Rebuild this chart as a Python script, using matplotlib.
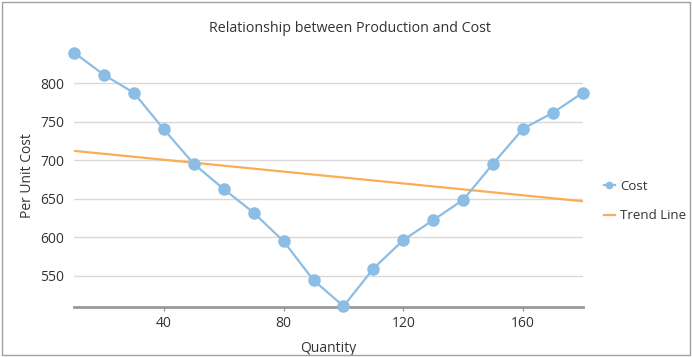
import numpy as np
import matplotlib.pyplot as plt
from matplotlib.patches import Rectangle

quantity = [10, 20, 30, 40, 50, 60, 70, 80, 90, 100, 110, 120, 130, 140, 150, 160, 170, 180]
cost = [839.6, 810.8, 787.4, 740, 695.3, 662.6, 631.9, 594.8, 544.3, 510.6,
        559.5, 596.5, 622.4, 648.7, 695.6, 741, 761.7, 787.8]
x_ticks = [40, 80, 120, 160]
y_ticks = [550, 600, 650, 700, 750, 800]

plt.rcParams['font.family'] = ['Open Sans', 'DejaVu Sans']
text_color = '#333333'
blue = '#8bbde5'
orange = '#f9ae55'

# linear trend of the cost series
slope, intercept = np.polyfit(quantity, cost, 1)
trend = [slope * q + intercept for q in quantity]

fig = plt.figure(figsize=(6.92, 3.57), dpi=100)
ax = fig.add_axes([0.107, 0.141, 0.7355, 0.734])

ax.plot(quantity, cost, color=blue, lw=1.6, marker='o', markersize=8,
        label='Cost', zorder=3, clip_on=False)
ax.plot(quantity, trend, color=orange, lw=1.6, label='Trend Line', zorder=2)

ax.set_xlim(10, 180)
ax.set_ylim(510, 850)
ax.set_xticks(x_ticks)
ax.set_yticks(y_ticks)
ax.grid(axis='y', color='#d9d9d9', lw=1)
ax.set_axisbelow(True)
for side in ['top', 'right', 'left']:
    ax.spines[side].set_visible(False)
ax.spines['bottom'].set_color('#999999')
ax.spines['bottom'].set_linewidth(2)
ax.tick_params(axis='y', length=0, labelsize=10, colors=text_color, pad=7)
ax.tick_params(axis='x', length=3, width=1, color='#999999', labelsize=10,
               colors=text_color, pad=4)
for lbl in ax.get_xticklabels() + ax.get_yticklabels():
    lbl.set_color(text_color)

ax.set_xlabel('Quantity', fontsize=10, color=text_color, labelpad=7)
ax.set_ylabel('Per Unit Cost', fontsize=10, color=text_color, labelpad=4)
fig.text(0.506, 0.92, 'Relationship between Production and Cost',
         ha='center', va='center', fontsize=10.3, color=text_color)

handles, labels = ax.get_legend_handles_labels()
handles[0] = plt.Line2D([], [], color=blue, lw=1.6, marker='o', markersize=4.5)
leg = fig.legend(handles, labels, loc='center left', bbox_to_anchor=(0.869, 0.437),
                 frameon=False, fontsize=9.5, handlelength=0.8, handletextpad=0.45,
                 labelspacing=1.25, borderpad=0.2, borderaxespad=0)
for t in leg.get_texts():
    t.set_color(text_color)

fig.patches.append(Rectangle((0.003, 0.005), 0.994, 0.99, transform=fig.transFigure,
                             fill=False, edgecolor='#a0a0a0', lw=1))

fig.savefig('out.png', dpi=100)
